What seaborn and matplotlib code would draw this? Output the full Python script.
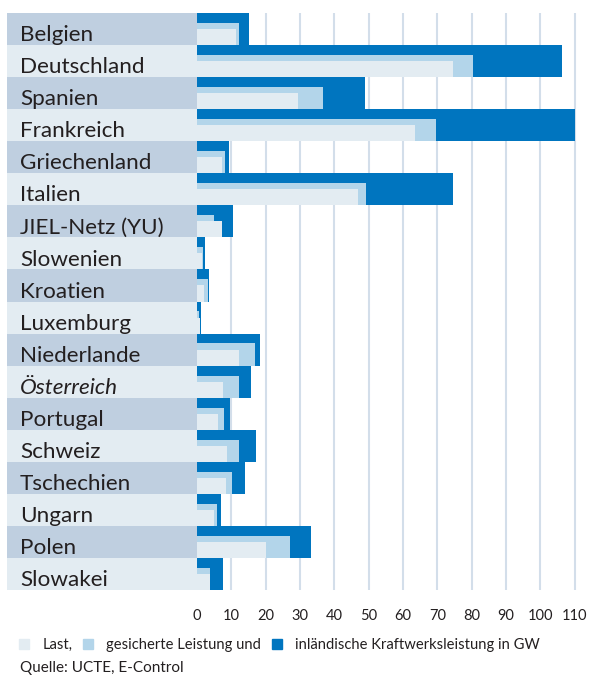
import numpy as np
import pandas as pd
import seaborn as sns
import matplotlib.pyplot as plt
from matplotlib.patches import Patch

# Daten (GW)
laender = ["Belgien", "Deutschland", "Spanien", "Frankreich", "Griechenland",
           "Italien", "JIEL-Netz (YU)", "Slowenien", "Kroatien", "Luxemburg",
           "Niederlande", "Österreich", "Portugal", "Schweiz", "Tschechien",
           "Ungarn", "Polen", "Slowakei"]
kraftwerk = [15.1, 106.4, 48.9, 110.0, 9.3, 74.5, 10.5, 2.3, 3.5, 1.2,
             18.3, 15.7, 9.6, 17.2, 14.0, 7.0, 33.2, 7.6]
gesichert = [12.2, 80.3, 36.7, 69.6, 8.1, 49.2, 4.9, 1.7, 3.2, 0.6,
             16.9, 12.2, 7.9, 12.2, 10.2, 5.8, 27.1, 3.9]
last = [11.3, 74.5, 29.4, 63.4, 7.3, 46.9, 7.3, 1.5, 2.0, 0.9,
        12.2, 7.6, 6.1, 8.7, 8.4, 4.9, 20.1, 3.8]
xticks = list(range(0, 111, 10))

df = pd.DataFrame({"Land": laender, "Kraftwerk": kraftwerk,
                   "Gesichert": gesichert, "Last": last})

c_dark = "#0075bf"
c_mid = "#b3d5ea"
c_light = "#e3ecf2"
c_band = "#bfcfe0"
c_grid = "#d3deea"
c_text = "#231f20"

sns.set_style("white")
plt.rcParams["font.family"] = ["Lato", "DejaVu Sans"]

fig = plt.figure(figsize=(5.89, 6.77), dpi=100)
ax = fig.add_axes([7 / 589, 1 - 590 / 677, (580 - 7) / 589, (590 - 13) / 677])

x_left = -55.3
n = len(laender)

# Zeilenbänder im Beschriftungsbereich
frac = (0 - x_left) / (111.5 - x_left)
for i in range(n):
    ax.axhspan(i - 0.5, i + 0.5, xmin=0, xmax=frac,
               color=c_band if i % 2 == 0 else c_light, lw=0, zorder=1)

# Balken, unten bündig in jeder Zeile
for col, color, w in [("Kraftwerk", c_dark, 1.0),
                      ("Gesichert", c_mid, 0.69),
                      ("Last", c_light, 0.5)]:
    before = len(ax.patches)
    sns.barplot(data=df, x=col, y="Land", orient="h", color=color,
                width=w, saturation=1, ax=ax, zorder=2)
    for p in ax.patches[before:]:
        p.set_y(p.get_y() + (1 - w) / 2)
        p.set_linewidth(0)

for i, name in enumerate(laender):
    ax.text(-51.5, i + 0.38, name, fontsize=16.2, color=c_text, va="baseline",
            ha="left", style="italic" if name == "Österreich" else "normal",
            zorder=3)

ax.set_xlim(x_left, 111.5)
ax.set_ylim(n - 0.5, -0.5)
ax.set_xticks(xticks)
ax.set_xticklabels([str(t) for t in xticks], fontsize=10.5, color=c_text)
ax.set_yticks([])
ax.set_xlabel("")
ax.set_ylabel("")
ax.tick_params(axis="x", length=0, pad=14)
ax.grid(axis="x", color=c_grid, lw=1.5)
ax.set_axisbelow(True)
for s in ax.spines.values():
    s.set_visible(False)

handles = [Patch(color=c_light), Patch(color=c_mid), Patch(color=c_dark)]
labels = ["Last,", "gesicherte Leistung und", "inländische Kraftwerksleistung in GW"]
fig.legend(handles, labels, loc="center left", bbox_to_anchor=(19 / 589, 1 - 645 / 677),
           ncol=3, frameon=False, fontsize=10.6, handlelength=0.7, handleheight=0.7,
           handletextpad=0.9, columnspacing=0.7, labelcolor=c_text,
           borderpad=0, borderaxespad=0)
fig.text(20 / 589, 1 - 668 / 677, "Quelle: UCTE, E-Control", fontsize=11,
         color=c_text, va="center", ha="left")

fig.savefig("out.png", dpi=100)
